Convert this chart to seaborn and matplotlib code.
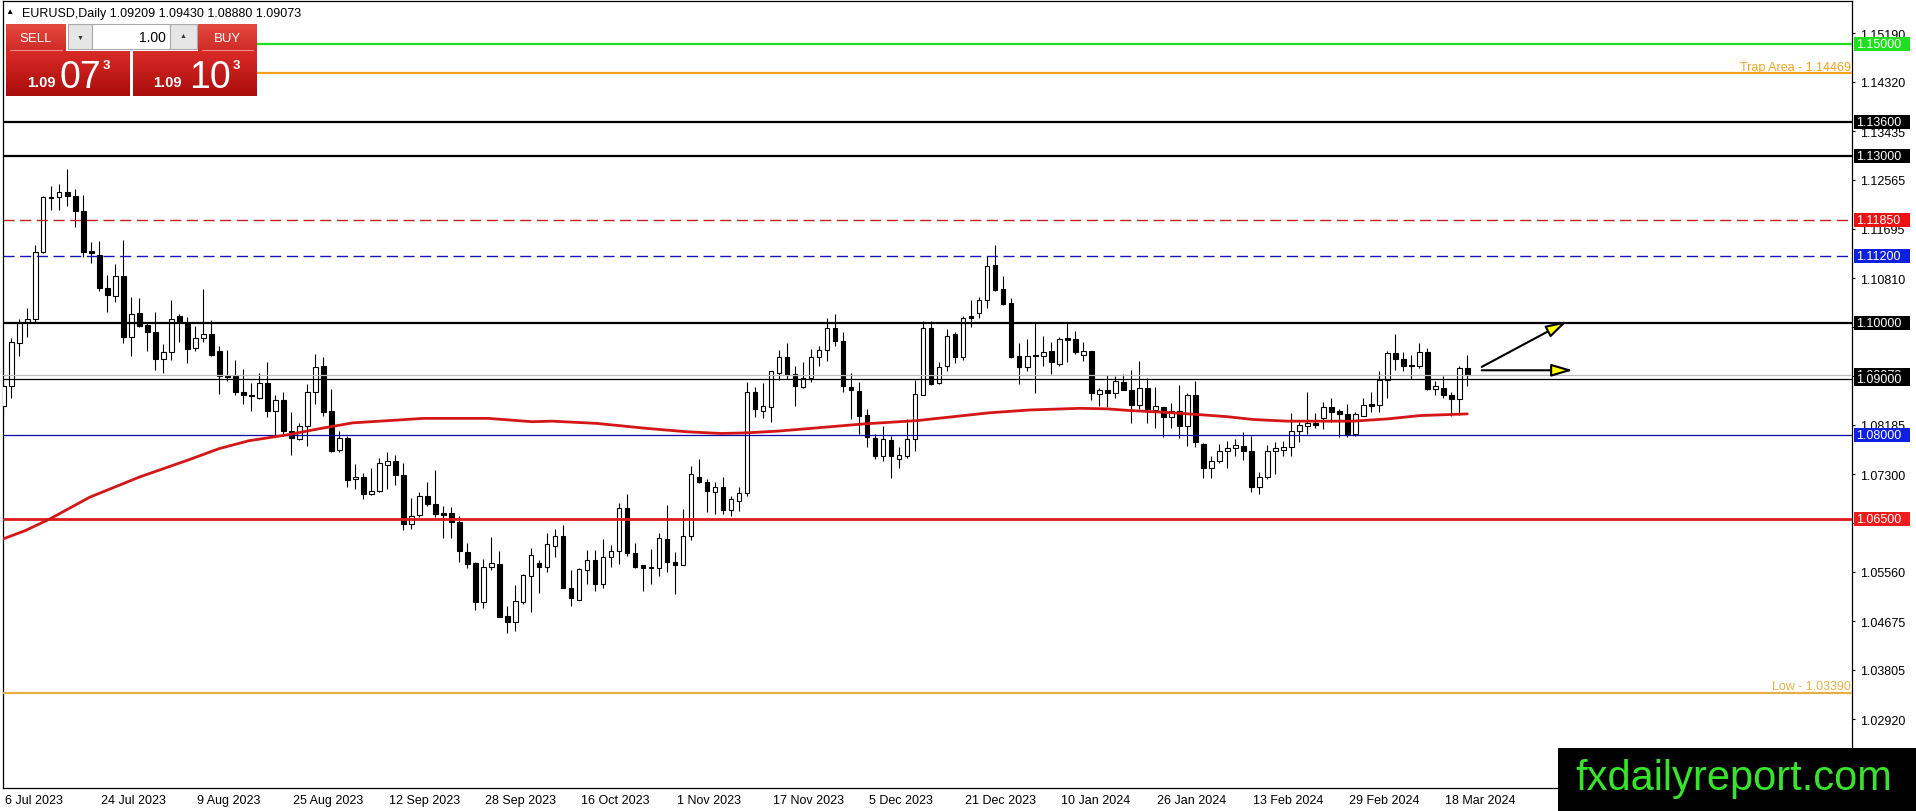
import numpy as np
import pandas as pd
import seaborn as sns
import matplotlib.pyplot as plt
from matplotlib.patches import Rectangle
from matplotlib.colors import LinearSegmentedColormap
from matplotlib.transforms import blended_transform_factory, ScaledTranslation

# daily EURUSD candles, 6 Jul 2023 .. 21 Mar 2024
opens = [1.0853, 1.0887, 1.0964, 1.1002, 1.1007, 1.1128, 1.1225, 1.1225, 1.1234, 1.1227,
         1.1200, 1.1129, 1.1123, 1.1064, 1.1049, 1.1084, 1.0976, 1.1018, 1.0997, 1.0984,
         1.0937, 1.0948, 1.1013, 1.1000, 1.0955, 1.0973, 1.0981, 1.0950, 1.0907, 1.0907,
         1.0878, 1.0872, 1.0866, 1.0894, 1.0844, 1.0862, 1.0808, 1.0793, 1.0817, 1.0878,
         1.0923, 1.0843, 1.0774, 1.0794, 1.0721, 1.0726, 1.0694, 1.0700, 1.0747, 1.0753,
         1.0729, 1.0641, 1.0657, 1.0691, 1.0676, 1.0660, 1.0660, 1.0644, 1.0591, 1.0571,
         1.0501, 1.0564, 1.0570, 1.0476, 1.0465, 1.0502, 1.0549, 1.0572, 1.0565, 1.0602,
         1.0619, 1.0527, 1.0506, 1.0558, 1.0576, 1.0534, 1.0582, 1.0592, 1.0669, 1.0589,
         1.0567, 1.0564, 1.0562, 1.0614, 1.0574, 1.0568, 1.0620, 1.0725, 1.0716, 1.0698,
         1.0707, 1.0667, 1.0683, 1.0696, 1.0878, 1.0844, 1.0850, 1.0911, 1.0939, 1.0909,
         1.0886, 1.0903, 1.0939, 1.0952, 1.0991, 1.0968, 1.0886, 1.0879, 1.0836, 1.0794,
         1.0762, 1.0791, 1.0757, 1.0763, 1.0793, 1.0872, 1.0991, 1.0893, 1.0923, 1.0981,
         1.0940, 1.1013, 1.1018, 1.1042, 1.1104, 1.1061, 1.1036, 1.0941, 1.0921, 1.0943,
         1.0942, 1.0950, 1.0928, 1.0973, 1.0972, 1.0944, 1.0950, 1.0874, 1.0881, 1.0875,
         1.0895, 1.0881, 1.0854, 1.0884, 1.0845, 1.0850, 1.0832, 1.0844, 1.0816, 1.0872,
         1.0784, 1.0741, 1.0753, 1.0771, 1.0777, 1.0781, 1.0771, 1.0708, 1.0726, 1.0771,
         1.0774, 1.0778, 1.0807, 1.0817, 1.0822, 1.0830, 1.0850, 1.0843, 1.0838, 1.0802,
         1.0835, 1.0856, 1.0854, 1.0899, 1.0947, 1.0936, 1.0925, 1.0924, 1.0948, 1.0883,
         1.0884, 1.0872, 1.0864, 1.09209]
highs = [1.0892, 1.0974, 1.1008, 1.1027, 1.1140, 1.1228, 1.1245, 1.1249, 1.1276, 1.1240,
         1.1229, 1.1145, 1.1147, 1.1086, 1.1106, 1.1149, 1.1047, 1.1045, 1.1002, 1.1020,
         1.0963, 1.1042, 1.1017, 1.1011, 1.0996, 1.1061, 1.1006, 1.0959, 1.0953, 1.0934,
         1.0918, 1.0893, 1.0912, 1.0931, 1.0871, 1.0877, 1.0841, 1.0821, 1.0891, 1.0945,
         1.0939, 1.0883, 1.0808, 1.0799, 1.0748, 1.0732, 1.0742, 1.0759, 1.0769, 1.0765,
         1.0751, 1.0687, 1.0698, 1.0717, 1.0738, 1.0673, 1.0671, 1.0655, 1.0608, 1.0574,
         1.0579, 1.0617, 1.0592, 1.0494, 1.0532, 1.0552, 1.0599, 1.0576, 1.0625, 1.0633,
         1.0639, 1.0559, 1.0562, 1.0594, 1.0595, 1.0615, 1.0604, 1.0679, 1.0695, 1.0607,
         1.0568, 1.0596, 1.0625, 1.0675, 1.0591, 1.0668, 1.0745, 1.0757, 1.0722, 1.0716,
         1.0725, 1.0692, 1.0707, 1.0895, 1.0886, 1.0894, 1.0915, 1.0952, 1.0964, 1.0924,
         1.0930, 1.0954, 1.0959, 1.1009, 1.1017, 1.0984, 1.0912, 1.0895, 1.0847, 1.0802,
         1.0817, 1.0799, 1.0778, 1.0829, 1.0898, 1.1005, 1.1005, 1.0930, 1.0989, 1.0985,
         1.1013, 1.1041, 1.1047, 1.1121, 1.1140, 1.1084, 1.1045, 1.0965, 1.0972, 1.1000,
         1.0978, 1.0966, 1.0975, 1.1000, 1.0987, 1.0967, 1.0950, 1.0885, 1.0908, 1.0906,
         1.0909, 1.0917, 1.0932, 1.0902, 1.0886, 1.0851, 1.0858, 1.0889, 1.0875, 1.0896,
         1.0786, 1.0762, 1.0784, 1.0790, 1.0793, 1.0805, 1.0799, 1.0734, 1.0783, 1.0787,
         1.0789, 1.0840, 1.0823, 1.0878, 1.0839, 1.0859, 1.0866, 1.0847, 1.0856, 1.0842,
         1.0866, 1.0878, 1.0915, 1.0951, 1.0981, 1.0949, 1.0943, 1.0965, 1.0955, 1.0897,
         1.0905, 1.0877, 1.0923, 1.09430]
lows = [1.0835, 1.0867, 1.0942, 1.0976, 1.1002, 1.1126, 1.1203, 1.1203, 1.1209, 1.1173,
        1.1118, 1.1107, 1.1058, 1.1021, 1.1038, 1.0965, 1.0942, 1.0993, 1.0951, 1.0917,
        1.0912, 1.0934, 1.0966, 1.0929, 1.0951, 1.0967, 1.0942, 1.0874, 1.0896, 1.0871,
        1.0856, 1.0844, 1.0865, 1.0832, 1.0799, 1.0799, 1.0765, 1.0792, 1.0781, 1.0856,
        1.0835, 1.0770, 1.0770, 1.0707, 1.0703, 1.0685, 1.0693, 1.0699, 1.0704, 1.0710,
        1.0631, 1.0632, 1.0653, 1.0674, 1.0653, 1.0616, 1.0616, 1.0574, 1.0562, 1.0488,
        1.0490, 1.0558, 1.0474, 1.0447, 1.0450, 1.0498, 1.0483, 1.0518, 1.0555, 1.0582,
        1.0526, 1.0495, 1.0506, 1.0533, 1.0522, 1.0527, 1.0565, 1.0570, 1.0583, 1.0563,
        1.0522, 1.0534, 1.0548, 1.0556, 1.0516, 1.0567, 1.0613, 1.0714, 1.0663, 1.0659,
        1.0659, 1.0656, 1.0665, 1.0692, 1.0832, 1.0830, 1.0824, 1.0898, 1.0900, 1.0852,
        1.0884, 1.0895, 1.0924, 1.0933, 1.0960, 1.0878, 1.0828, 1.0802, 1.0778, 1.0757,
        1.0754, 1.0723, 1.0741, 1.0759, 1.0772, 1.0871, 1.0889, 1.0892, 1.0914, 1.0929,
        1.0935, 1.0993, 1.1009, 1.1027, 1.1057, 1.1033, 1.0938, 1.0892, 1.0915, 1.0875,
        1.0924, 1.0909, 1.0923, 1.0930, 1.0945, 1.0933, 1.0862, 1.0853, 1.0850, 1.0866,
        1.0880, 1.0821, 1.0847, 1.0821, 1.0812, 1.0796, 1.0812, 1.0794, 1.0780, 1.0779,
        1.0723, 1.0723, 1.0751, 1.0741, 1.0762, 1.0756, 1.0699, 1.0694, 1.0722, 1.0731,
        1.0762, 1.0762, 1.0788, 1.0802, 1.0812, 1.0811, 1.0824, 1.0796, 1.0796, 1.0798,
        1.0834, 1.0841, 1.0842, 1.0866, 1.0917, 1.0914, 1.0900, 1.0920, 1.0880, 1.0872,
        1.0866, 1.0834, 1.0836, 1.08880]
closes = [1.0887, 1.0966, 1.1001, 1.1007, 1.1128, 1.1225, 1.1224, 1.1234, 1.1227, 1.1200,
          1.1128, 1.1125, 1.1064, 1.1051, 1.1084, 1.0976, 1.1016, 1.0996, 1.0984, 1.0936,
          1.0948, 1.1007, 1.1002, 1.0954, 1.0973, 1.0981, 1.0943, 1.0905, 1.0904, 1.0878,
          1.0871, 1.0870, 1.0894, 1.0844, 1.0862, 1.0808, 1.0794, 1.0817, 1.0878, 1.0921,
          1.0842, 1.0772, 1.0794, 1.0720, 1.0726, 1.0694, 1.0700, 1.0750, 1.0753, 1.0728,
          1.0641, 1.0656, 1.0691, 1.0677, 1.0659, 1.0658, 1.0644, 1.0592, 1.0570, 1.0501,
          1.0564, 1.0571, 1.0475, 1.0465, 1.0503, 1.0550, 1.0585, 1.0565, 1.0605, 1.0619,
          1.0527, 1.0508, 1.0560, 1.0576, 1.0534, 1.0582, 1.0592, 1.0669, 1.0589, 1.0565,
          1.0562, 1.0562, 1.0616, 1.0574, 1.0568, 1.0619, 1.0730, 1.0716, 1.0700, 1.0708,
          1.0667, 1.0685, 1.0697, 1.0878, 1.0847, 1.0852, 1.0914, 1.0939, 1.0908, 1.0887,
          1.0903, 1.0939, 1.0952, 1.0991, 1.0968, 1.0887, 1.0881, 1.0835, 1.0796, 1.0762,
          1.0793, 1.0762, 1.0765, 1.0793, 1.0874, 1.0991, 1.0892, 1.0921, 1.0978, 1.0940,
          1.1010, 1.1010, 1.1042, 1.1103, 1.1060, 1.1035, 1.0939, 1.0921, 1.0942, 1.0942,
          1.0949, 1.0930, 1.0972, 1.0971, 1.0948, 1.0950, 1.0875, 1.0881, 1.0875, 1.0896,
          1.0881, 1.0854, 1.0884, 1.0847, 1.0852, 1.0832, 1.0844, 1.0816, 1.0872, 1.0787,
          1.0741, 1.0753, 1.0771, 1.0777, 1.0783, 1.0771, 1.0708, 1.0726, 1.0771, 1.0777,
          1.0778, 1.0807, 1.0818, 1.0822, 1.0818, 1.0850, 1.0842, 1.0837, 1.0802, 1.0838,
          1.0854, 1.0853, 1.0899, 1.0947, 1.0936, 1.0924, 1.0924, 1.0948, 1.0883, 1.0887,
          1.0872, 1.0864, 1.0920, 1.09073]

# moving average (bar index, price)
ma_idx = [-0.1, 2.7, 5.8, 10.8, 17.0, 23.2, 27.0, 30.7, 35.7, 39.3, 43.7, 49.3, 52.5,
          60.6, 66.1, 68.6, 74.2, 80.5, 85.5, 89.7, 92.8, 96.6, 99.2, 107.5, 114.2,
          123.3, 128.3, 134.6, 138.0, 140.8, 145.0, 149.2, 153.0, 156.2, 160.5, 168.7,
          173.0, 177.1, 183.0]
ma_val = [1.0614, 1.0629, 1.0650, 1.0689, 1.0725, 1.0756, 1.0776, 1.0790, 1.0801, 1.0811,
          1.0822, 1.0827, 1.0830, 1.0830, 1.0824, 1.0825, 1.0821, 1.0812, 1.0806, 1.0803,
          1.0804, 1.0807, 1.0810, 1.0820, 1.0826, 1.0840, 1.0845, 1.0848, 1.0847, 1.0844,
          1.0841, 1.0837, 1.0833, 1.0828, 1.0825, 1.0825, 1.0829, 1.0835, 1.0838]

date_idx = list(range(0, 181, 12))
date_labels = ["6 Jul 2023", "24 Jul 2023", "9 Aug 2023", "25 Aug 2023", "12 Sep 2023",
               "28 Sep 2023", "16 Oct 2023", "1 Nov 2023", "17 Nov 2023", "5 Dec 2023",
               "21 Dec 2023", "10 Jan 2024", "26 Jan 2024", "13 Feb 2024", "29 Feb 2024",
               "18 Mar 2024"]
price_ticks = [1.02920, 1.03805, 1.04675, 1.05560, 1.06430, 1.07300, 1.08185, 1.09060,
               1.09940, 1.10810, 1.11695, 1.12565, 1.13435, 1.14320, 1.15190]
# ticks whose labels sit under a price tag in the reference
hidden_ticks = [1.06430, 1.09060, 1.09940]

levels = [1.15000, 1.14469, 1.13600, 1.13000, 1.11850, 1.11200, 1.10000, 1.09000,
          1.08000, 1.06500, 1.03390]
bid = 1.09073
trap_text = "Trap Area - 1.14469"
low_text = "Low - 1.03390"
header = "EURUSD,Daily 1.09209 1.09430 1.08880 1.09073"
arrow_up = [(184.8, 1.0922), (195.5, 1.1004)]
arrow_flat = [(184.8, 1.0916), (196.2, 1.0916)]

sns.set_style("white")
plt.rcParams['font.family'] = ['Liberation Sans', 'DejaVu Sans']
plt.rcParams['lines.scale_dashes'] = False

W, H = 1916, 812
fig = plt.figure(figsize=(W / 100, H / 100), dpi=100)
fig.patch.set_facecolor('white')
left_px, right_px, top_px, bot_px = 2.5, 1852, 2, 789
ax = fig.add_axes([left_px / W, 1 - bot_px / H, (right_px - left_px) / W, (bot_px - top_px) / H])

df = pd.DataFrame({'open': opens, 'high': highs, 'low': lows, 'close': closes})
df['idx'] = np.arange(len(df))
up = df['close'] >= df['open']

# candles
ax.vlines(df['idx'], df['low'], df['high'], color='black', lw=0.8, zorder=2)
body_lo = np.minimum(df['open'], df['close'])
body_h = np.maximum((df['close'] - df['open']).abs(), 0.00015)
ax.bar(df['idx'], body_h, bottom=body_lo, width=0.55,
       color=np.where(up, 'white', 'black'), edgecolor='black', linewidth=0.8, zorder=3)

# moving average
sns.lineplot(x=ma_idx, y=ma_val, ax=ax, color='#d41616', lw=2.0, sort=False, zorder=5)

# horizontal levels
styles = {
    1.15000: dict(color='#1ee01e', lw=1.6, ls='-', start=0.1368),
    1.14469: dict(color='#f4a21c', lw=1.6, ls='-', start=0.1368),
    1.13600: dict(color='black', lw=1.6, ls='-', start=0),
    1.13000: dict(color='black', lw=1.6, ls='-', start=0),
    1.11850: dict(color='#c81e1e', lw=1.0, ls=(0, (8, 4)), start=0),
    1.11200: dict(color='#1414b4', lw=1.0, ls=(0, (8, 4)), start=0),
    1.10000: dict(color='black', lw=1.6, ls='-', start=0),
    1.09000: dict(color='black', lw=0.9, ls='-', start=0),
    1.08000: dict(color='#0a0aa8', lw=0.9, ls='-', start=0),
    1.06500: dict(color='#dd1c1c', lw=2.0, ls='-', start=0),
    1.03390: dict(color='#e4b043', lw=1.6, ls='-', start=0),
}
ax.axhline(bid, color='#bdbdbd', lw=0.9, zorder=3.5)
for lv in levels:
    st = styles[lv]
    ax.axhline(lv, xmin=st['start'], xmax=1, color=st['color'], lw=st['lw'],
               ls=st['ls'], zorder=4)

ax.text(0.9995, 1.14469 + 0.00012, trap_text, transform=blended_transform_factory(ax.transAxes, ax.transData),
        ha='right', va='bottom', fontsize=9, color='#f4a21c', zorder=6)
ax.text(0.9995, 1.03390 + 0.00012, low_text, transform=blended_transform_factory(ax.transAxes, ax.transData),
        ha='right', va='bottom', fontsize=9, color='#e4b043', zorder=6)

# arrows
for (x0, y0), (x1, y1) in (arrow_up, arrow_flat):
    ax.annotate('', xy=(x1, y1), xytext=(x0, y0), annotation_clip=False,
                arrowprops=dict(arrowstyle='-|>,head_length=1.3,head_width=0.38',
                                mutation_scale=10, fc='#ffff00', ec='black', lw=1.5,
                                shrinkA=0, shrinkB=0), zorder=6)

ax.set_xlim((left_px - 3.3) / 8, (right_px - 3.3) / 8)
ax.set_ylim(1.01690, 1.157636)
ax.set_xlabel('')
ax.set_ylabel('')

# axes / ticks
ax.yaxis.tick_right()
ax.set_yticks(price_ticks)
ax.set_yticklabels(['' if v in hidden_ticks else f'{v:.5f}' for v in price_ticks])
ax.tick_params(axis='y', length=2.5, width=0.8, pad=3, labelsize=9, colors='black', direction='out')
ax.set_xticks(date_idx)
ax.set_xticklabels(date_labels, ha='left')
ax.tick_params(axis='x', length=3, width=0.8, pad=1, labelsize=9, colors='black', direction='out')
for lbl in ax.get_xticklabels():
    lbl.set_transform(lbl.get_transform() + ScaledTranslation(2 / 100, 0, fig.dpi_scale_trans))
for sp in ax.spines.values():
    sp.set_visible(True)
    sp.set_color('black')
    sp.set_linewidth(0.9)
ax.grid(False)

# price tags on the right scale
tag = blended_transform_factory(ax.transAxes, ax.transData)
hh = 7 / 5592
tags = [(1.15000, '#1ee01e'), (1.13600, 'black'), (1.13000, 'black'), (1.11850, '#ee1111'),
        (1.11200, '#1020e0'), (1.10000, 'black'), (bid, 'black'), (1.09000, 'black'),
        (1.08000, '#1020e0'), (1.06500, '#ee1c1c')]
for k, (val, col) in enumerate(tags):
    ax.add_patch(Rectangle((1.0009, val - hh), 0.0302, 2 * hh, transform=tag, clip_on=False,
                           fc=col, ec='none', zorder=20 + 2 * k))
    ax.text(1.0024, val, f'{val:.5f}', transform=tag, ha='left', va='center', fontsize=9,
            color='white', clip_on=False, zorder=21 + 2 * k)

# overlay in pixel coordinates: header, trade panel, watermark
ov = fig.add_axes([0, 0, 1, 1], zorder=10)
ov.axis('off')

ov.text(9, 13, '\u25b2', fontsize=6, ha='center', va='center', color='black')
ov.text(22, 13.5, header, fontsize=9, ha='left', va='center', color='black')

btn_cm = LinearSegmentedColormap.from_list('btn', ['#e4493f', '#cf2b27'])
box_cm = LinearSegmentedColormap.from_list('box', ['#d92b27', '#a90c0c'])
grad = np.linspace(0, 1, 50).reshape(-1, 1)
for x0, x1 in ((6, 66), (198, 257)):
    ov.imshow(grad, cmap=btn_cm, extent=(x0, x1, 52, 25), aspect='auto', interpolation='bilinear')
    ov.plot([x0 + 4, x1 - 4], [50.5, 50.5], color='#f08a84', lw=0.8)
for x0, x1 in ((6, 130), (133, 257)):
    ov.imshow(grad, cmap=box_cm, extent=(x0, x1, 97, 52), aspect='auto', interpolation='bilinear')
ov.text(36, 39, 'SELL', fontsize=9.5, color='white', ha='center', va='center')
ov.text(227.5, 39, 'BUY', fontsize=9.5, color='white', ha='center', va='center')

ov.add_patch(Rectangle((68, 25), 24, 25, fc='#e6e6e6', ec='#a8a8a8', lw=0.8))
ov.add_patch(Rectangle((92, 25), 78, 25, fc='white', ec='#a8a8a8', lw=0.8))
ov.add_patch(Rectangle((170, 25), 27, 25, fc='#e6e6e6', ec='#a8a8a8', lw=0.8))
ov.text(80, 38, '\u25bc', fontsize=5, ha='center', va='center', color='#333333')
ov.text(183.5, 37, '\u25b2', fontsize=5, ha='center', va='center', color='#333333')
ov.text(166, 38, '1.00', fontsize=10, ha='right', va='center', color='black')

for x_small, x_big, x_sup, big in ((27, 60, 103, '07'), (153, 189, 233, '10')):
    ov.text(x_small, 87, '1.09', fontsize=10.5, fontweight='bold', color='white', ha='left', va='baseline')
    ov.text(x_big, 88, big, fontsize=27, color='white', ha='left', va='baseline')
    ov.text(x_sup, 69, '3', fontsize=9.5, fontweight='bold', color='white', ha='left', va='baseline')

ov.add_patch(Rectangle((1558, 749), 360, 65, fc='black', ec='none'))
ov.text(1575, 790, 'fxdailyreport.com', fontsize=30, color='#36e52a', ha='left', va='baseline')

ov.set_xlim(0, W)
ov.set_ylim(H, 0)

fig.savefig('out.png', dpi=100, facecolor='white')
